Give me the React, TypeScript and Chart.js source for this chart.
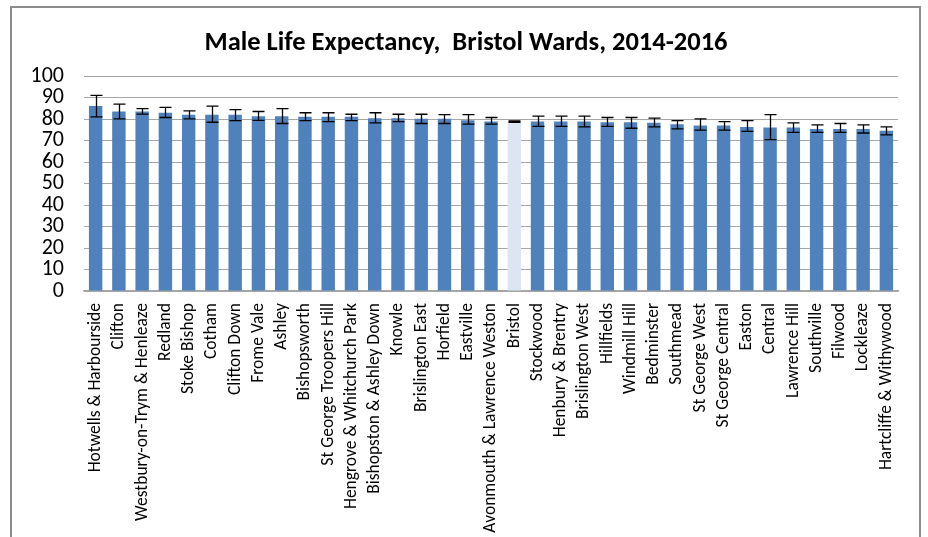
import React, { useEffect, useRef } from "react";
import { Chart, registerables } from "chart.js";

Chart.register(...registerables);

const TITLE = "Male Life Expectancy,  Bristol Wards, 2014-2016";

const categories = [
  "Hotwells & Harbourside",
  "Clifton",
  "Westbury-on-Trym & Henleaze",
  "Redland",
  "Stoke Bishop",
  "Cotham",
  "Clifton Down",
  "Frome Vale",
  "Ashley",
  "Bishopsworth",
  "St George Troopers Hill",
  "Hengrove & Whitchurch Park",
  "Bishopston & Ashley Down",
  "Knowle",
  "Brislington East",
  "Horfield",
  "Eastville",
  "Avonmouth & Lawrence Weston",
  "Bristol",
  "Stockwood",
  "Henbury & Brentry",
  "Brislington West",
  "Hillfields",
  "Windmill Hill",
  "Bedminster",
  "Southmead",
  "St George West",
  "St George Central",
  "Easton",
  "Central",
  "Lawrence Hill",
  "Southville",
  "Filwood",
  "Lockleaze",
  "Hartcliffe & Withywood",
];

const lifeExpectancy = [
  86.0, 83.5, 83.5, 82.9, 82.0, 82.0, 82.0, 81.3, 81.3, 81.0, 81.0, 81.0,
  80.4, 80.4, 80.1, 80.1, 79.4, 78.8, 78.8, 78.8, 78.8, 78.8, 78.5, 78.5,
  78.2, 77.6, 77.0, 77.0, 76.3, 76.0, 76.0, 75.4, 75.4, 75.4, 74.5,
];

const lowerCI = [
  81.0, 80.1, 82.3, 80.7, 80.1, 78.5, 79.2, 79.4, 77.9, 79.2, 78.8, 79.2,
  78.2, 78.8, 77.9, 77.9, 77.6, 77.6, 78.5, 76.6, 76.6, 76.3, 76.6, 75.7,
  76.3, 75.4, 74.8, 74.8, 74.2, 70.4, 73.8, 73.8, 73.8, 73.5, 72.6,
];

const upperCI = [
  91.0, 86.9, 84.8, 85.4, 83.8, 86.0, 84.4, 83.5, 84.8, 82.9, 82.9, 82.2,
  82.9, 82.2, 82.2, 82.0, 82.0, 80.7, 79.1, 81.3, 81.3, 81.3, 80.7, 80.7,
  80.4, 79.2, 80.1, 78.8, 79.2, 82.0, 78.2, 77.3, 77.9, 77.3, 76.3,
];

const yTicks = [0, 10, 20, 30, 40, 50, 60, 70, 80, 90, 100];

const HIGHLIGHT = "Bristol";
const FONT = "Carlito, Calibri, 'Liberation Sans', Arial, sans-serif";

export default function App() {
  const ref = useRef<HTMLCanvasElement | null>(null);

  useEffect(() => {
    document.body.style.margin = "0";
    const canvas = ref.current;
    if (!canvas) return;

    const framePlugin = {
      id: "frame",
      beforeDraw(chart: any) {
        const ctx = chart.ctx;
        ctx.save();
        ctx.fillStyle = "#ffffff";
        ctx.fillRect(0, 0, chart.width, chart.height);
        ctx.strokeStyle = "#8c8c8c";
        ctx.lineWidth = 2;
        ctx.strokeRect(11, 7, 909, 600);
        ctx.restore();
      },
      afterDraw(chart: any) {
        const ctx = chart.ctx;
        ctx.save();
        ctx.fillStyle = "#000000";
        ctx.font = "bold 26.5px " + FONT;
        ctx.textAlign = "center";
        ctx.textBaseline = "alphabetic";
        ctx.fillText(TITLE, 466, 50);
        ctx.restore();
      },
    };

    const errorBarPlugin = {
      id: "errorBars",
      afterDatasetsDraw(chart: any) {
        const ctx = chart.ctx;
        const yScale = chart.scales.y;
        const meta = chart.getDatasetMeta(0);
        ctx.save();
        ctx.strokeStyle = "#000000";
        ctx.lineWidth = 1.3;
        meta.data.forEach((bar: any, i: number) => {
          const x = Math.round(bar.x) + 0.5;
          const yl = yScale.getPixelForValue(lowerCI[i]);
          const yu = yScale.getPixelForValue(upperCI[i]);
          const cap = 6;
          ctx.beginPath();
          ctx.moveTo(x, yl);
          ctx.lineTo(x, yu);
          ctx.moveTo(x - cap, yl);
          ctx.lineTo(x + cap, yl);
          ctx.moveTo(x - cap, yu);
          ctx.lineTo(x + cap, yu);
          ctx.stroke();
        });
        ctx.restore();
      },
    };

    const chart = new Chart(canvas, {
      type: "bar",
      data: {
        labels: categories,
        datasets: [
          {
            data: lifeExpectancy,
            backgroundColor: categories.map((c) =>
              c === HIGHLIGHT ? "#dce6f2" : "#4f81bd"
            ),
            borderWidth: 0,
            barPercentage: 0.577,
            categoryPercentage: 1,
          },
        ],
      },
      options: {
        responsive: false,
        animation: false,
        devicePixelRatio: 1,
        layout: { padding: { top: 76, right: 30, left: 0, bottom: 0 } },
        plugins: {
          legend: { display: false },
          tooltip: { enabled: false },
          title: { display: false },
        },
        scales: {
          x: {
            grid: { display: false, drawTicks: false },
            border: { color: "#a6a6a6", width: 1.5 },
            ticks: {
              autoSkip: false,
              minRotation: 90,
              maxRotation: 90,
              padding: 12,
              color: "#000000",
              font: { family: FONT, size: 17.5 },
            },
            afterFit: (s: any) => {
              s.height = 246;
            },
          },
          y: {
            min: 0,
            max: 100,
            afterBuildTicks: (s: any) => {
              s.ticks = yTicks.map((v) => ({ value: v }));
            },
            grid: { color: "#a6a6a6", lineWidth: 1, drawTicks: false },
            border: { display: false },
            ticks: {
              autoSkip: false,
              padding: 20,
              color: "#000000",
              font: { family: FONT, size: 22 },
            },
            afterFit: (s: any) => {
              s.width = 84;
            },
          },
        },
      },
      plugins: [framePlugin, errorBarPlugin],
    });

    return () => chart.destroy();
  }, []);

  return (
    <div style={{ width: 928, height: 537 }}>
      <canvas ref={ref} width={928} height={537} style={{ display: "block" }} />
    </div>
  );
}
